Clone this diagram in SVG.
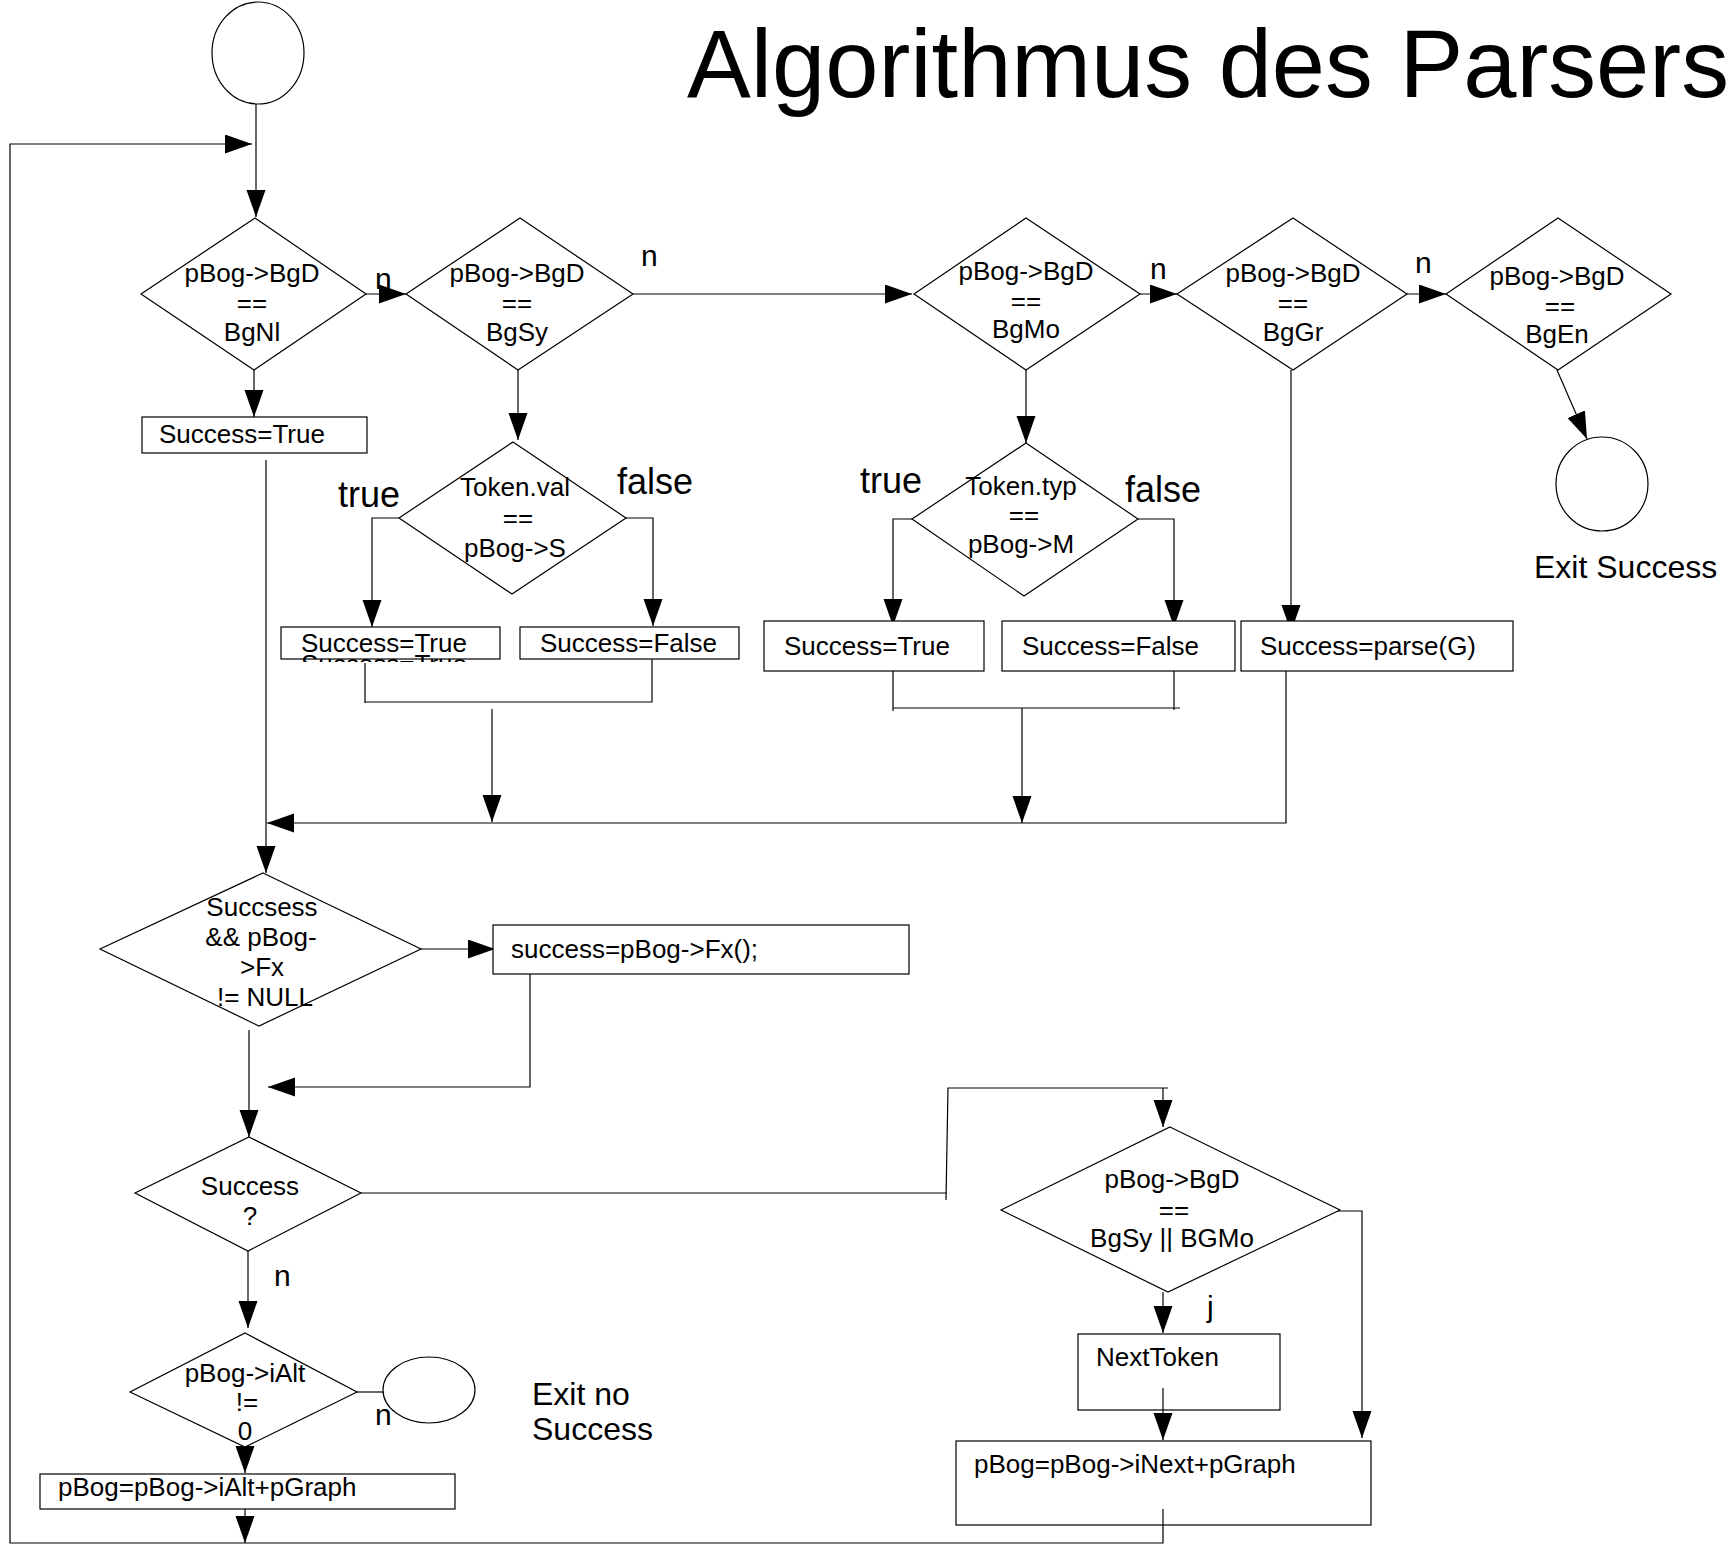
<svg xmlns="http://www.w3.org/2000/svg" width="1731" height="1545" viewBox="0 0 1731 1545">
  <style>
    .shape { fill: #fff; stroke: #000; stroke-width: 1.2; }
    .line { fill: none; stroke: #000; stroke-width: 1.2; }
    .arrow { marker-end: url(#head); }
    text { font-family: "Liberation Sans", Arial, sans-serif; fill: #000; }
    .t { font-size: 26px; }
    .c { text-anchor: middle; }
    .lbl { font-size: 30px; }
    .big { font-size: 36px; }
    .exit { font-size: 32px; }
    .title { font-size: 96px; }
  </style>
  <defs>
    <marker id="head" markerUnits="userSpaceOnUse" markerWidth="28" markerHeight="20" refX="27" refY="9.5" orient="auto">
      <path d="M0,0 L27,9.5 L0,19 z" fill="#000"/>
    </marker>
    <clipPath id="ghostClip">
      <rect x="280" y="653" width="220" height="9"/>
    </clipPath>
  </defs>

  <rect width="1731" height="1545" fill="#fff"/>

  <text class="title" x="687" y="97" textLength="1042" lengthAdjust="spacingAndGlyphs">Algorithmus des Parsers</text>

  <!-- connectors -->
  <g id="connectors">
    <path class="line arrow" d="M256,104 L256,217"/>
    <path class="line arrow" d="M1163,1509 L1163,1543 L10,1543 L10,144 L252,144"/>
    <path class="line arrow" d="M366,294 L406,294"/>
    <path class="line arrow" d="M633,294 L912,294"/>
    <path class="line arrow" d="M1140,294 L1177,294"/>
    <path class="line arrow" d="M1407,294 L1446,294"/>
    <path class="line arrow" d="M1557,370 L1587,439"/>
    <path class="line arrow" d="M254,370 L254,417"/>
    <path class="line arrow" d="M266,460 L266,873"/>
    <path class="line arrow" d="M518,370 L518,440"/>
    <path class="line arrow" d="M399,518 L372,518 L372,627"/>
    <path class="line arrow" d="M626,518 L653,518 L653,626"/>
    <path class="line" d="M365,663 L365,703 M365,702 L652,702 L652,659"/>
    <path class="line arrow" d="M492,709 L492,822"/>
    <path class="line arrow" d="M1026,370 L1026,443"/>
    <path class="line arrow" d="M912,519 L893,519 L893,626"/>
    <path class="line arrow" d="M1138,519 L1174,519 L1174,627"/>
    <path class="line" d="M893,671 L893,711 M893,708 L1180,708 M1174,671 L1174,710"/>
    <path class="line arrow" d="M1022,708 L1022,823"/>
    <path class="line arrow" d="M1291,370 L1291,632"/>
    <path class="line arrow" d="M1286,671 L1286,823 L267,823"/>
    <path class="line arrow" d="M421,949 L495,949"/>
    <path class="line arrow" d="M530,974 L530,1087 L268,1087"/>
    <path class="line arrow" d="M249,1030 L249,1137"/>
    <path class="line" d="M361,1193 L947,1193 M946,1200 L948,1088 L1168,1088"/>
    <path class="line arrow" d="M1163,1088 L1163,1127"/>
    <path class="line arrow" d="M248,1251 L248,1328"/>
    <path class="line" d="M357,1392 L384,1392"/>
    <path class="line arrow" d="M245,1447 L245,1473"/>
    <path class="line arrow" d="M245,1509 L245,1543"/>
    <path class="line arrow" d="M1163,1292 L1163,1333"/>
    <path class="line arrow" d="M1324,1211 L1362,1211 L1362,1438"/>
    <path class="line arrow" d="M1163,1388 L1163,1440"/>
  </g>

  <!-- branch labels -->
  <g id="labels">
    <text class="lbl" x="375" y="289">n</text>
    <text class="lbl" x="641" y="266">n</text>
    <text class="lbl" x="1150" y="279">n</text>
    <text class="lbl" x="1415" y="273">n</text>
    <text class="lbl" x="274" y="1286">n</text>
    <text class="lbl" x="375" y="1425">n</text>
    <text class="lbl" x="1207" y="1317">j</text>
    <text class="big" x="338" y="507">true</text>
    <text class="big" x="617" y="494">false</text>
    <text class="big" x="860" y="493">true</text>
    <text class="big" x="1125" y="502">false</text>
  </g>

  <g id="start">
    <ellipse class="shape" cx="258" cy="53" rx="46" ry="51"/>
  </g>

  <g id="d-bgnl">
    <polygon class="shape" points="255,218 366,294 254,370 141,294"/>
    <text class="t c" x="252" y="282">pBog-&gt;BgD</text>
    <text class="t c" x="252" y="312">==</text>
    <text class="t c" x="252" y="341">BgNl</text>
  </g>

  <g id="d-bgsy">
    <polygon class="shape" points="520,218 633,294 518,370 406,294"/>
    <text class="t c" x="517" y="282">pBog-&gt;BgD</text>
    <text class="t c" x="517" y="312">==</text>
    <text class="t c" x="517" y="341">BgSy</text>
  </g>

  <g id="d-bgmo">
    <polygon class="shape" points="1026,218 1140,294 1026,370 914,294"/>
    <text class="t c" x="1026" y="280">pBog-&gt;BgD</text>
    <text class="t c" x="1026" y="310">==</text>
    <text class="t c" x="1026" y="338">BgMo</text>
  </g>

  <g id="d-bggr">
    <polygon class="shape" points="1293,218 1407,294 1293,370 1177,294"/>
    <text class="t c" x="1293" y="282">pBog-&gt;BgD</text>
    <text class="t c" x="1293" y="312">==</text>
    <text class="t c" x="1293" y="341">BgGr</text>
  </g>

  <g id="d-bgen">
    <polygon class="shape" points="1558,218 1671,294 1558,370 1446,294"/>
    <text class="t c" x="1557" y="285">pBog-&gt;BgD</text>
    <text class="t c" x="1560" y="315">==</text>
    <text class="t c" x="1557" y="343">BgEn</text>
  </g>

  <g id="exit-success">
    <ellipse class="shape" cx="1602" cy="484" rx="46" ry="47"/>
    <text class="exit" x="1534" y="578">Exit Success</text>
  </g>

  <g id="b-nl-true">
    <rect class="shape" x="142" y="417" width="225" height="36"/>
    <text class="t" x="159" y="443">Success=True</text>
  </g>

  <g id="d-tokval">
    <polygon class="shape" points="513,442 626,518 512,594 399,518"/>
    <text class="t c" x="515" y="496">Token.val</text>
    <text class="t c" x="518" y="527">==</text>
    <text class="t c" x="515" y="557">pBog-&gt;S</text>
  </g>

  <g id="b-sy-true">
    <!-- second copy of the label sits lower and only its top edge shows -->
    <text class="t" x="301" y="673" clip-path="url(#ghostClip)">Success=True</text>
    <rect x="281" y="627" width="219" height="32" fill="none" stroke="#000" stroke-width="1.2"/>
    <text class="t" x="301" y="652">Success=True</text>
  </g>

  <g id="b-sy-false">
    <rect class="shape" x="520" y="627" width="219" height="32"/>
    <text class="t" x="540" y="652">Success=False</text>
  </g>

  <g id="d-toktyp">
    <polygon class="shape" points="1026,443 1138,519 1024,596 912,519"/>
    <text class="t c" x="1021" y="495">Token.typ</text>
    <text class="t c" x="1024" y="524">==</text>
    <text class="t c" x="1021" y="553">pBog-&gt;M</text>
  </g>

  <g id="b-mo-true">
    <rect class="shape" x="764" y="621" width="220" height="50"/>
    <text class="t" x="784" y="655">Success=True</text>
  </g>

  <g id="b-mo-false">
    <rect class="shape" x="1002" y="621" width="233" height="50"/>
    <text class="t" x="1022" y="655">Success=False</text>
  </g>

  <g id="b-parse">
    <rect class="shape" x="1241" y="621" width="272" height="50"/>
    <text class="t" x="1260" y="655">Success=parse(G)</text>
  </g>

  <g id="d-fx">
    <polygon class="shape" points="263,873 421,949 259,1026 100,949"/>
    <text class="t c" x="262" y="916">Succsess</text>
    <text class="t c" x="261" y="946">&amp;&amp; pBog-</text>
    <text class="t c" x="262" y="976">&gt;Fx</text>
    <text class="t c" x="265" y="1006">!= NULL</text>
  </g>

  <g id="b-fx">
    <rect class="shape" x="493" y="925" width="416" height="49"/>
    <text class="t" x="511" y="958">success=pBog-&gt;Fx();</text>
  </g>

  <g id="d-success">
    <polygon class="shape" points="249,1137 361,1193 248,1251 135,1193"/>
    <text class="t c" x="250" y="1195">Success</text>
    <text class="t c" x="250" y="1225">?</text>
  </g>

  <g id="d-ialt">
    <polygon class="shape" points="245,1333 357,1392 245,1447 130,1392"/>
    <text class="t c" x="245" y="1382">pBog-&gt;iAlt</text>
    <text class="t c" x="247" y="1411">!=</text>
    <text class="t c" x="245" y="1440">0</text>
  </g>

  <g id="exit-no-success">
    <ellipse class="shape" cx="429" cy="1390" rx="46" ry="33"/>
    <text class="exit" x="532" y="1405">Exit no</text>
    <text class="exit" x="532" y="1440">Success</text>
  </g>

  <g id="b-ialt">
    <rect class="shape" x="40" y="1474" width="415" height="35"/>
    <text class="t" x="58" y="1496">pBog=pBog-&gt;iAlt+pGraph</text>
  </g>

  <g id="d-symo">
    <polygon class="shape" points="1170,1127 1340,1210 1168,1292 1001,1210"/>
    <text class="t c" x="1172" y="1188">pBog-&gt;BgD</text>
    <text class="t c" x="1174" y="1219">==</text>
    <text class="t c" x="1172" y="1247">BgSy || BGMo</text>
  </g>

  <g id="b-nexttoken">
    <rect class="shape" x="1078" y="1334" width="202" height="76"/>
    <text class="t" x="1096" y="1366">NextToken</text>
  </g>

  <g id="b-inext">
    <rect class="shape" x="956" y="1441" width="415" height="84"/>
    <text class="t" x="974" y="1473">pBog=pBog-&gt;iNext+pGraph</text>
  </g>

  <!-- lines that run over the boxes they start in -->
  <g id="connectors-inner">
    <path class="line" d="M1163,1388 L1163,1410"/>
    <path class="line" d="M1163,1509 L1163,1525"/>
  </g>
</svg>
